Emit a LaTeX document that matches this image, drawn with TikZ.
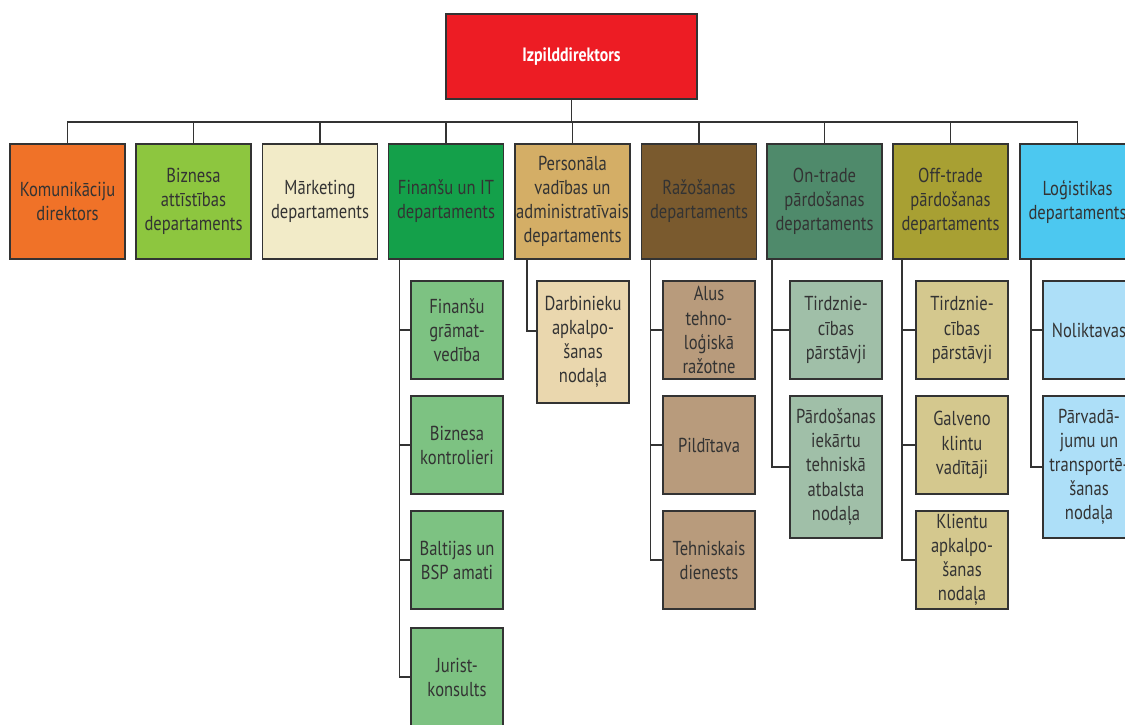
\documentclass[tikz,border=0pt]{standalone}
\usepackage{fontspec}
\setmainfont{PT Sans}[FakeStretch=0.82]

\definecolor{ceored}{HTML}{ED1C24}
\definecolor{komorange}{HTML}{F07228}
\definecolor{bizgreen}{HTML}{8DC63F}
\definecolor{marcream}{HTML}{F2EBC8}
\definecolor{fingreen}{HTML}{14A04A}
\definecolor{perstan}{HTML}{D4AE66}
\definecolor{razbrown}{HTML}{7A5A2E}
\definecolor{ontgreen}{HTML}{4F8A6B}
\definecolor{oftolive}{HTML}{A8A033}
\definecolor{logblue}{HTML}{4CC8F0}
\definecolor{finlight}{HTML}{7DC282}
\definecolor{perslight}{HTML}{EAD7AE}
\definecolor{razlight}{HTML}{B89B7C}
\definecolor{ontlight}{HTML}{A0BFA8}
\definecolor{oftlight}{HTML}{D4C88E}
\definecolor{loglight}{HTML}{ADDFF8}
\definecolor{inkgray}{HTML}{333333}

\tikzset{
  box/.style={draw=inkgray, line width=0.85pt, inner sep=0pt, outer sep=0pt,
    align=center, text=inkgray, font=\fontsize{11.5}{13.7}\selectfont},
  dept/.style={box, minimum width=2.3cm, minimum height=2.3cm},
  unit/.style={box, minimum width=1.84cm, minimum height=1.96cm},
  tallunit/.style={unit, minimum height=2.84cm},
  link/.style={draw=inkgray, line width=1.1pt}
}

\begin{document}
\begin{tikzpicture}[x=0.02cm, y=-0.02cm]
    \useasboundingbox (0,0) rectangle (1125,724);
    \node[box, fill=ceored, minimum width=5.02cm, minimum height=1.7cm, text=white,
      font=\fontsize{11}{13}\selectfont\bfseries] (ceo) at (571.5,56.5) {Izpilddirektors};

    \node[dept, fill=komorange] (kom) at (67.5,201.5) {Komunikāciju\\direktors};
    \node[dept, fill=bizgreen] (biz) at (193.5,201.5) {Biznesa\\attīstības\\departaments};
    \node[dept, fill=marcream] (mar) at (320,201.5) {Mārketing\\departaments};
    \node[dept, fill=fingreen] (fin) at (446,201.5) {Finanšu un IT\\departaments};
    \node[dept, fill=perstan] (pers) at (572.5,201.5) {Personāla\\vadības un\\administratīvais\\departaments};
    \node[dept, fill=razbrown] (raz) at (699,201.5) {Ražošanas\\departaments};
    \node[dept, fill=ontgreen] (ont) at (824.5,201.5) {On-trade\\pārdošanas\\departaments};
    \node[dept, fill=oftolive] (oft) at (950.5,201.5) {Off-trade\\pārdošanas\\departaments};
    \node[dept, fill=logblue] (log) at (1077.5,201.5) {Loģistikas\\departaments};

    \foreach \d in {kom,biz,mar,fin,pers,raz,ont,oft,log}
      \draw[link] (ceo.south) -- ++(0,23) -| (\d.north);

    \node[unit, fill=finlight] (fin1) at (457,330) {Finanšu\\grāmat-\\vedība};
    \node[unit, fill=finlight] (fin2) at (457,445) {Biznesa\\kontrolieri};
    \node[unit, fill=finlight] (fin3) at (457,560) {Baltijas un\\BSP amati};
    \node[unit, fill=finlight] (fin4) at (457,677) {Jurist-\\konsults};

    \node[unit, fill=perslight, minimum height=2.44cm] (pers1) at (583,342) {Darbinieku\\apkalpo-\\šanas\\nodaļa};

    \node[unit, fill=razlight] (raz1) at (709,330) {Alus\\tehno-\\loģiskā\\ražotne};
    \node[unit, fill=razlight] (raz2) at (709,445) {Pildītava};
    \node[unit, fill=razlight] (raz3) at (709,560) {Tehniskais\\dienests};

    \node[unit, fill=ontlight] (ont1) at (836,330) {Tirdznie-\\cības\\pārstāvji};
    \node[tallunit, fill=ontlight] (ont2) at (836,467) {Pārdošanas\\iekārtu\\tehniskā\\atbalsta\\nodaļa};

    \node[unit, fill=oftlight] (oft1) at (962,330) {Tirdznie-\\cības\\pārstāvji};
    \node[unit, fill=oftlight] (oft2) at (962,445) {Galveno\\klintu\\vadītāji};
    \node[unit, fill=oftlight] (oft3) at (962,560) {Klientu\\apkalpo-\\šanas\\nodaļa};

    \node[unit, fill=loglight] (log1) at (1089,330) {Noliktavas};
    \node[tallunit, fill=loglight] (log2) at (1089,467) {Pārvadā-\\jumu un\\transportē-\\šanas\\nodaļa};

    \draw[link] ([xshift=0.22cm]fin.south west) |- (fin1.west)
      ([xshift=0.22cm]fin.south west) |- (fin2.west)
      ([xshift=0.22cm]fin.south west) |- (fin3.west)
      ([xshift=0.22cm]fin.south west) |- (fin4.west);
    \draw[link] ([xshift=0.24cm]pers.south west) |- ([yshift=0.22cm]pers1.west);
    \draw[link] ([xshift=0.18cm]raz.south west) |- (raz1.west)
      ([xshift=0.18cm]raz.south west) |- (raz2.west)
      ([xshift=0.18cm]raz.south west) |- (raz3.west);
    \draw[link] ([xshift=0.1cm]ont.south west) |- (ont1.west)
      ([xshift=0.1cm]ont.south west) |- (ont2.west);
    \draw[link] ([xshift=0.18cm]oft.south west) |- (oft1.west)
      ([xshift=0.18cm]oft.south west) |- (oft2.west)
      ([xshift=0.18cm]oft.south west) |- (oft3.west);
    \draw[link] ([xshift=0.22cm]log.south west) |- (log1.west)
      ([xshift=0.22cm]log.south west) |- (log2.west);
\end{tikzpicture}
\end{document}
